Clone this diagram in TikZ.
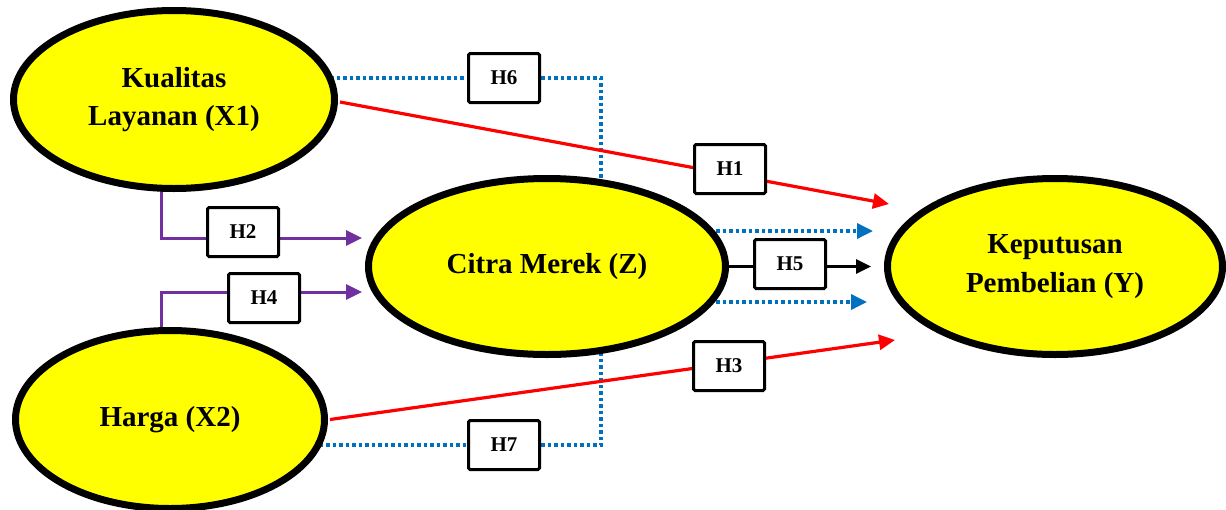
\documentclass[tikz,border=0pt]{standalone}
\usepackage{fontspec}
\setmainfont{Liberation Serif}
\usetikzlibrary{shapes.geometric,arrows.meta,backgrounds}
\definecolor{ellyellow}{HTML}{FFFF00}
\definecolor{dotblue}{HTML}{0070C0}
\definecolor{purp}{HTML}{7030A0}
\definecolor{redline}{HTML}{FF0000}
\tikzset{
  var/.style={ellipse, draw=black, line width=7pt, fill=ellyellow, inner sep=0pt,
    align=center, font=\fontsize{29}{38.5}\selectfont\bfseries},
  hbox/.style={draw=black, line width=3pt, fill=white, minimum width=71pt,
    minimum height=49pt, inner sep=0pt, rounded corners=1.5pt,
    font=\fontsize{21}{24}\selectfont\bfseries},
  tip/.style={-{Triangle[length=16pt,width=15pt]}},
  redarr/.style={tip, draw=redline, line width=3.2pt},
  purarr/.style={tip, draw=purp, line width=3pt},
  blkarr/.style={-{Triangle[length=15pt,width=14pt]}, draw=black, line width=3pt},
  bluedot/.style={draw=dotblue, line width=3.5pt, dash pattern=on 3.5pt off 3pt},
}
\begin{document}
\begin{tikzpicture}[x=1pt,y=-1pt]
\useasboundingbox (0,0) rectangle (1226,509);
% variables
\node[var, minimum width=321pt, minimum height=178pt] (X1) at (174,99.5) {Kualitas\\Layanan (X1)};
\node[var, minimum width=357pt, minimum height=176pt] (Z) at (547,266.5) {Citra Merek (Z)};
\node[var, minimum width=335pt, minimum height=176pt] (Y) at (1055,266.5) {Keputusan\\Pembelian (Y)};
\node[var, minimum width=309pt, minimum height=178pt] (X2) at (170,419.5) {Harga (X2)};
% hypothesis boxes
\node[hbox] (H6) at (504,78) {H6};
\node[hbox] (H1) at (730,169) {H1};
\node[hbox] (H2) at (243,232) {H2};
\node[hbox] (H5) at (790,264) {H5};
\node[hbox] (H4) at (264,298) {H4};
\node[hbox] (H3) at (729,366) {H3};
\node[hbox] (H7) at (504,445) {H7};
% connector ends
\coordinate (c6) at (601,78);
\coordinate (c7) at (601,445);
\coordinate (t1) at (889,204);
\coordinate (t3) at (895,340);
\coordinate (bu) at (873,231);
\coordinate (bl) at (867,302);
\coordinate (t5) at (871,266.5);
\coordinate (p2) at (161,238);
\coordinate (t2) at (362,238);
\coordinate (p4) at (161,292);
\coordinate (t4) at (362,292);
\begin{scope}[on background layer]
  % H6 / H7 mediation (dotted)
  \draw[bluedot] (X1.center |- H6) -- (H6) -- (c6) -- (c6 |- Z.center);
  \draw[bluedot] (X2.center |- H7) -- (H7) -- (c7) -- (c7 |- Z.center);
  \draw[bluedot, tip] (Z.center |- bu) -- (bu);
  \draw[bluedot, tip] (Z.center |- bl) -- (bl);
  % direct effects
  \draw[redarr] ([shift={(2,2.5)}]X1.east) -- (t1);
  \draw[redarr] ([shift={(2,0)}]X2.east) -- (t3);
  \draw[blkarr] (Z.center) -- (t5);
  \draw[purarr] (p2 |- X1.center) -- (p2) -- (t2);
  \draw[purarr] (p4 |- X2.center) -- (p4) -- (t4);
\end{scope}
\end{tikzpicture}
\end{document}
